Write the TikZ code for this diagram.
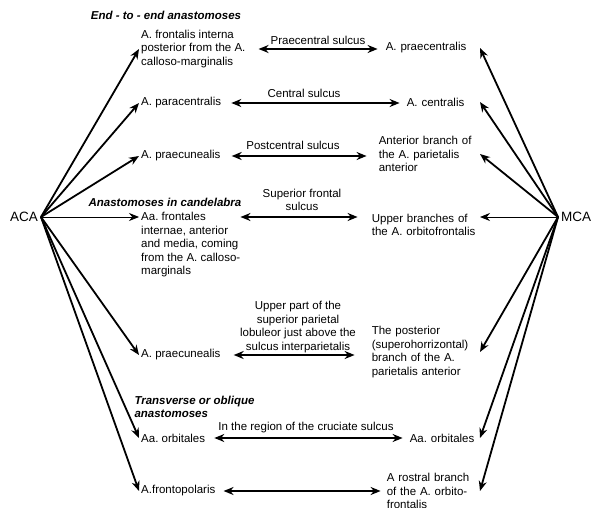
\documentclass[tikz,border=0pt]{standalone}
\usepackage{fontspec}
\setmainfont{Liberation Sans}
\usetikzlibrary{arrows.meta}
\tikzset{
  lbl/.style={anchor=west,align=left,inner sep=2pt},
  rlbl/.style={anchor=east,align=left,inner sep=2pt},
  hdr/.style={font=\fontsize{11.5}{13.5}\selectfont\frenchspacing\bfseries\itshape},
  artery/.style={font=\fontsize{13.5}{15}\selectfont,inner sep=3pt},
  branch/.style={-{Stealth[length=10pt,width=8pt]},line width=1.8pt},
  thinbranch/.style={branch,line width=0.9pt},
  sulcus/.style={{Stealth[length=10pt,width=8pt]}-{Stealth[length=10pt,width=8pt]},line width=1.8pt}
}
\begin{document}
\begin{tikzpicture}[x=1pt,y=-1pt,every node/.style={font=\fontsize{11.5}{13.5}\selectfont\frenchspacing}]
	\useasboundingbox (0,0) rectangle (594,508);
	\node[artery,anchor=east](aca) at (41,217) {ACA};
	\node[artery,anchor=west](mca) at (558,217) {MCA};
	\node[hdr](h1) at (166,15) {End - to - end anastomoses};
	\node[hdr](h2) at (165,202) {Anastomoses in candelabra};
	\node[hdr,anchor=west,align=left](h3) at (131,407) {Transverse or oblique\\anastomoses};
	\node[lbl](fip) at (139,49) {A. frontalis interna\\posterior from the A.\\calloso-marginalis};
	\node[lbl](pac) at (139,103) {A. paracentralis};
	\node[lbl](pcua) at (139,156) {A. praecunealis};
	\node[lbl](afi) at (139,245) {Aa. frontales\\internae, anterior\\and media, coming\\from the A. calloso-\\marginals};
	\node[lbl](pcub) at (139,355) {A. praecunealis};
	\node[lbl](orbl) at (139,438) {Aa. orbitales};
	\node[lbl](fpo) at (139,491) {A.frontopolaris};
	\node[rlbl,text width=92pt](prc) at (480,48) {A. praecentralis};
	\node[rlbl,text width=71pt](cen) at (480,102) {A. centralis};
	\node[rlbl,text width=99pt](abp) at (480,154) {Anterior branch of\\the A. parietalis\\anterior};
	\node[rlbl,text width=106pt](ubo) at (480,225) {Upper branches of\\the A. orbitofrontalis};
	\node[rlbl,text width=106pt](ppa) at (480,352) {The posterior\\(superohorrizontal)\\branch of the A.\\parietalis anterior};
	\node[rlbl,text width=68pt](orbr) at (480,438) {Aa. orbitales};
	\node[rlbl,text width=91pt](rbo) at (480,491) {A rostral branch\\of the A. orbito-\\frontalis};
	\node(sa) at (318,40) {Praecentral sulcus};
	\node(sb) at (304,93) {Central sulcus};
	\node(sc) at (293,145) {Postcentral sulcus};
	\node[align=center](sd) at (302,200) {Superior frontal\\sulcus};
	\node[align=center](se) at (298,327) {Upper part of the\\superior parietal\\lobuleor just above the\\sulcus interparietalis};
	\node(sf) at (306,428) {In the region of the cruciate sulcus};
	\draw[branch] (aca.east)--(fip.west);
	\draw[branch] (aca.east)--(pac.west);
	\draw[branch] (aca.east)--(pcua.west);
	\draw[thinbranch] (aca.east)--(aca -| afi.west);
	\draw[branch] (aca.east)--(pcub.west);
	\draw[branch] (aca.east)--(orbl.west);
	\draw[branch] (aca.east)--(fpo.west);
	\draw[branch] (mca.west)--(prc.east);
	\draw[branch] (mca.west)--(cen.east);
	\draw[branch] (mca.west)--(abp.east);
	\draw[thinbranch] (mca.west)--(mca -| ubo.east);
	\draw[branch] (mca.west)--(ppa.east);
	\draw[branch] (mca.west)--(orbr.east);
	\draw[branch] (mca.west)--(rbo.east);
	\draw[sulcus] ([xshift=11pt]fip.east)--([xshift=-6pt]fip.east -| prc.west);
	\draw[sulcus] ([xshift=8pt]pac.east)--([xshift=-5pt]pac.east -| cen.west);
	\draw[sulcus] ([xshift=9pt]pcua.east)--([xshift=-10pt]pcua.east -| abp.west);
	\draw[sulcus] ([xshift=-2pt]aca -| afi.east)--([xshift=-12pt]aca -| ubo.west);
	\draw[sulcus] ([xshift=11pt]pcub.east)--([xshift=-15pt]pcub.east -| ppa.west);
	\draw[sulcus] ([xshift=7pt]orbl.east)--([xshift=-5pt]orbl.east -| orbr.west);
	\draw[sulcus] ([xshift=6pt]fpo.east)--([xshift=-4pt]fpo.east -| rbo.west);
\end{tikzpicture}
\end{document}
